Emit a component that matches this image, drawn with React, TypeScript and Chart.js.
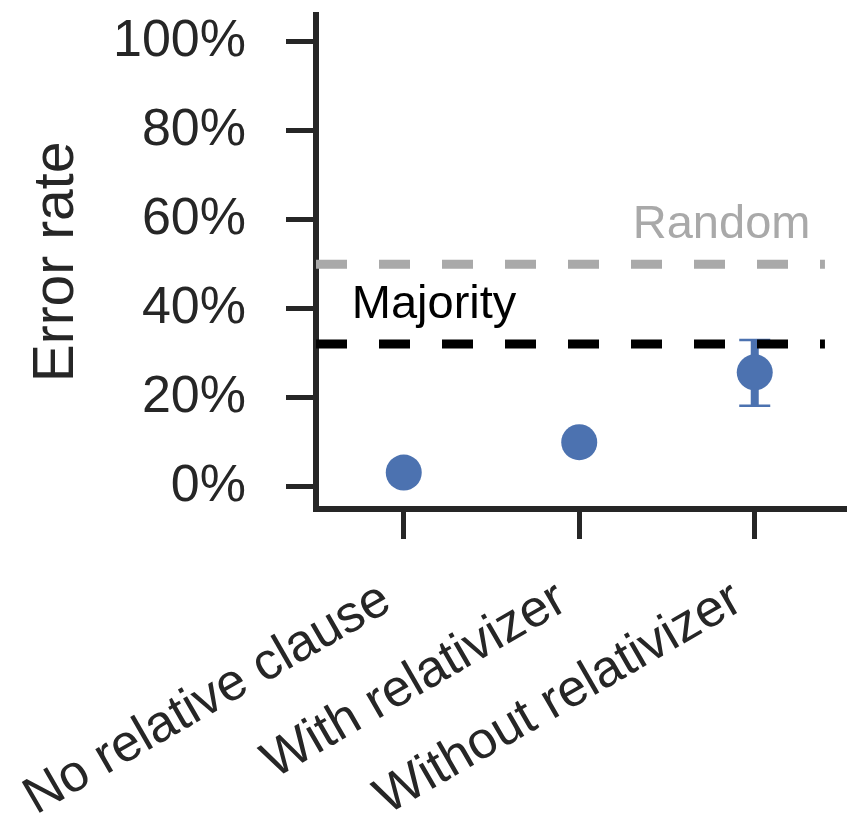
import React, { useEffect, useRef } from 'react';
import { Chart, registerables } from 'chart.js';

Chart.register(...registerables);

const categories = ['No relative clause', 'With relativizer', 'Without relativizer'];
const errorRates = [3.2, 10.0, 25.7];
const errorLow = [null, null, 18.2];
const errorHigh = [null, null, 33.0];
const yTickValues = [0, 20, 40, 60, 80, 100];
const randomLevel = 50;
const majorityLevel = 32.1;
const referenceSpan = [-0.5, 2.4];
const annotationLabels = [
  { text: 'Random', x: 1.305, y: 56, color: '#a9a9a9' },
  { text: 'Majority', x: -0.296, y: 38, color: '#000000' },
];

const FONT = '"Liberation Sans", Arial, sans-serif';
const DARK = '#262626';
const BLUE = '#4c72b0';

export default function App() {
  const canvasRef = useRef<HTMLCanvasElement | null>(null);

  useEffect(() => {
    const canvas = canvasRef.current;
    if (!canvas) return;

    const errorBarPlugin = {
      id: 'errorBars',
      beforeDatasetsDraw(chart: any) {
        const { ctx, scales } = chart;
        const xs = scales.x;
        const ys = scales.y;
        ctx.save();
        ctx.strokeStyle = BLUE;
        categories.forEach((_, i) => {
          const lo = errorLow[i];
          const hi = errorHigh[i];
          if (lo == null || hi == null) return;
          const px = xs.getPixelForValue(i);
          const pLo = ys.getPixelForValue(lo);
          const pHi = ys.getPixelForValue(hi);
          ctx.lineWidth = 8;
          ctx.beginPath();
          ctx.moveTo(px, pLo);
          ctx.lineTo(px, pHi);
          ctx.stroke();
          ctx.lineWidth = 2.5;
          ctx.beginPath();
          ctx.moveTo(px - 15.5, pLo);
          ctx.lineTo(px + 15.5, pLo);
          ctx.moveTo(px - 15.5, pHi);
          ctx.lineTo(px + 15.5, pHi);
          ctx.stroke();
        });
        ctx.restore();
      },
    };

    const annotationPlugin = {
      id: 'annotations',
      afterDatasetsDraw(chart: any) {
        const { ctx, scales } = chart;
        ctx.save();
        ctx.font = `47px ${FONT}`;
        ctx.textAlign = 'left';
        ctx.textBaseline = 'alphabetic';
        annotationLabels.forEach((a) => {
          ctx.fillStyle = a.color;
          ctx.fillText(a.text, scales.x.getPixelForValue(a.x), scales.y.getPixelForValue(a.y));
        });
        ctx.restore();
      },
    };

    const chart = new Chart(canvas, {
      type: 'scatter',
      data: {
        datasets: [
          {
            type: 'line',
            label: 'Random',
            data: referenceSpan.map((x) => ({ x, y: randomLevel })),
            borderColor: '#a9a9a9',
            borderWidth: 9,
            borderDash: [31, 32],
            pointRadius: 0,
            fill: false,
            clip: false as any,
            order: 3,
          },
          {
            type: 'line',
            label: 'Majority',
            data: referenceSpan.map((x) => ({ x, y: majorityLevel })),
            borderColor: '#000000',
            borderWidth: 9,
            borderDash: [31, 32],
            pointRadius: 0,
            fill: false,
            clip: false as any,
            order: 2,
          },
          {
            label: 'Error rate',
            data: errorRates.map((y, i) => ({ x: i, y })),
            backgroundColor: BLUE,
            borderColor: BLUE,
            borderWidth: 0,
            pointRadius: 18,
            order: 1,
          },
        ],
      },
      options: {
        responsive: false,
        animation: false,
        layout: { autoPadding: false, padding: { top: 15, left: 0, right: 2, bottom: 0 } },
        plugins: {
          legend: { display: false },
          tooltip: { enabled: false },
        },
        scales: {
          x: {
            type: 'linear',
            min: -0.5,
            max: 2.52,
            afterBuildTicks: (scale: any) => {
              scale.ticks = categories.map((_, i) => ({ value: i }));
            },
            afterFit: (scale: any) => {
              scale.height = 819 - 509;
              scale.paddingLeft = 0;
              scale.paddingRight = 0;
            },
            grid: {
              drawOnChartArea: false,
              drawTicks: true,
              tickLength: 30,
              tickWidth: 5,
              tickColor: DARK,
            },
            border: { display: true, color: DARK, width: 6 },
            ticks: {
              autoSkip: false,
              minRotation: 30,
              maxRotation: 30,
              padding: 30,
              labelOffset: -17,
              color: DARK,
              font: { family: FONT, size: 52 },
              callback: (v: any) => categories[v as number] ?? '',
            },
          },
          y: {
            type: 'linear',
            min: -5,
            max: 106,
            afterBuildTicks: (scale: any) => {
              scale.ticks = yTickValues.map((v) => ({ value: v }));
            },
            afterFit: (scale: any) => {
              scale.width = 316;
              scale.paddingTop = 0;
              scale.paddingBottom = 0;
            },
            grid: {
              drawOnChartArea: false,
              drawTicks: true,
              tickLength: 30,
              tickWidth: 5,
              tickColor: DARK,
            },
            border: { display: true, color: DARK, width: 6 },
            ticks: {
              padding: 40,
              color: DARK,
              font: { family: FONT, size: 52 },
              callback: (v: any) => `${v}%`,
            },
            title: {
              display: true,
              text: 'Error rate',
              color: DARK,
              font: { family: FONT, size: 57 },
              padding: { top: 23, bottom: 0 },
            },
          },
        },
      },
      plugins: [errorBarPlugin, annotationPlugin],
    });

    return () => chart.destroy();
  }, []);

  return (
    <div style={{ position: 'absolute', left: 0, top: 0, width: 848, height: 819, background: '#fff' }}>
      <canvas ref={canvasRef} width={848} height={819} style={{ display: 'block' }} />
    </div>
  );
}
